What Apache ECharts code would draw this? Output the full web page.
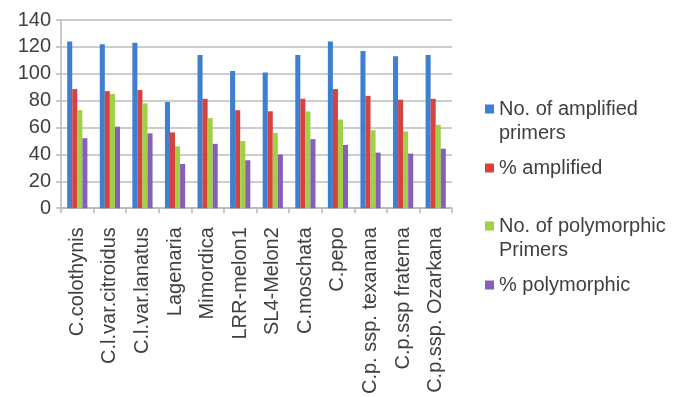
<!DOCTYPE html>
<html>
<head>
<meta charset="utf-8">
<script src="https://cdn.jsdelivr.net/npm/echarts@6/dist/echarts.min.js"></script>
<style>
  html, body { margin: 0; padding: 0; background: #fff; }
  #chart { width: 673px; height: 397px; }
</style>
</head>
<body>
<div id="chart"></div>
<script>
// Cucurbit accessions and primer amplification / polymorphism counts
const categories = ['C.colothynis', 'C.l.var.citroidus', 'C.l.var.lanatus', 'Lagenaria', 'Mimordica',
  'LRR-melon1', 'SL4-Melon2', 'C.moschata', 'C.pepo', 'C.p. ssp. texanana', 'C.p.ssp fraterna', 'C.p.ssp. Ozarkana'];
const amplifiedPrimers = [124, 122, 123, 79, 114, 102, 101, 114, 124, 117, 113, 114];
const pctAmplified = [88.6, 87.1, 87.9, 56.4, 81.4, 72.9, 72.1, 81.4, 88.6, 83.6, 80.7, 81.4];
const polymorphicPrimers = [73, 85, 78, 46, 67, 50, 56, 72, 66, 58, 57, 62];
const pctPolymorphic = [52.1, 60.7, 55.7, 32.9, 47.9, 35.7, 40.0, 51.4, 47.1, 41.4, 40.7, 44.3];
const yTicks = { min: 0, max: 140, interval: 20 };

const seriesNames = ['No. of amplified\nprimers', '% amplified', 'No. of polymorphic\nPrimers', '% polymorphic'];
const seriesColors = ['#3f7fcf', '#d6423f', '#9fd046', '#8660b6'];
const seriesData = [amplifiedPrimers, pctAmplified, polymorphicPrimers, pctPolymorphic];

const font = 'Liberation Sans, Arial, sans-serif';
const legendTops = [97, 156, 214, 273];

// Two-line legend entries: square marker sits beside the first line
const squareTopIcon = 'path://M0,0h9v9h-9zM0,33h9';

const chart = echarts.init(document.getElementById('chart'));
chart.setOption({
  animation: false,
  backgroundColor: '#fff',
  textStyle: { fontFamily: font },
  grid: { left: 61, right: 221, top: 20, bottom: 188, containLabel: false },
  legend: seriesNames.map((name, i) => {
    const twoLine = name.indexOf('\n') >= 0;
    return {
      data: [name],
      left: 485,
      top: legendTops[i],
      padding: 0,
      orient: 'vertical',
      icon: twoLine ? squareTopIcon : 'rect',
      itemWidth: 9,
      itemHeight: twoLine ? 33 : 9,
      itemGap: 0,
      textStyle: { fontFamily: font, fontSize: 20, color: '#404040', lineHeight: 24 }
    };
  }),
  xAxis: {
    type: 'category',
    data: categories,
    boundaryGap: true,
    axisLine: { lineStyle: { color: '#b8b8b8', width: 1.5 } },
    axisTick: { show: true, length: 5, alignWithLabel: false, lineStyle: { color: '#b8b8b8', width: 1.5 } },
    axisLabel: { rotate: 90, interval: 0, fontSize: 20, color: '#404040', fontFamily: font, margin: 19 }
  },
  yAxis: {
    type: 'value',
    min: yTicks.min,
    max: yTicks.max,
    interval: yTicks.interval,
    axisLine: { show: true, lineStyle: { color: '#b8b8b8', width: 1.5 } },
    axisTick: { show: true, length: 5, lineStyle: { color: '#b8b8b8', width: 1.5 } },
    splitLine: { lineStyle: { color: '#bdbdbd', width: 1.5 } },
    axisLabel: { fontSize: 20, color: '#404040', fontFamily: font, margin: 10 }
  },
  series: seriesNames.map((name, i) => ({
    name: name,
    type: 'bar',
    data: seriesData[i],
    barGap: '0%',
    barCategoryGap: '38%',
    itemStyle: { color: seriesColors[i] }
  }))
});
</script>
</body>
</html>
